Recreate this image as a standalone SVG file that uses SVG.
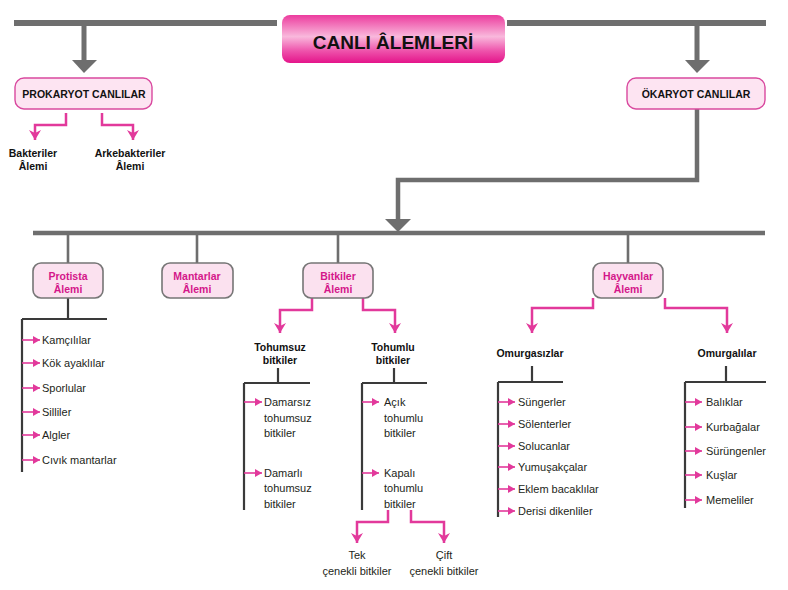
<svg xmlns="http://www.w3.org/2000/svg" width="788" height="590" viewBox="0 0 788 590">
<defs>
<linearGradient id="tg" x1="0" y1="0" x2="0" y2="1">
<stop offset="0" stop-color="#ec3c9e"/>
<stop offset="0.45" stop-color="#f9b8dc"/>
<stop offset="0.75" stop-color="#ee52ab"/>
<stop offset="1" stop-color="#e4148a"/>
</linearGradient>
<marker id="pa" markerUnits="userSpaceOnUse" markerWidth="12" markerHeight="12" refX="10" refY="6" orient="auto">
<path d="M0,0 L10,6 L0,12 L3,6 Z" fill="#e2399b"/>
</marker>
<marker id="sa" markerUnits="userSpaceOnUse" markerWidth="8" markerHeight="8" refX="7" refY="4" orient="auto">
<path d="M0,0 L7,4 L0,8 Z" fill="#e2399b"/>
</marker>
</defs>
<style>
.g{stroke:#6e6e6e;fill:none}
.gh{fill:#6e6e6e}
.p{stroke:#e2399b;stroke-width:2.5;fill:none;marker-end:url(#pa)}
.s{stroke:#e2399b;stroke-width:1.6;fill:none;marker-end:url(#sa)}
.k{stroke:#3a3a3a;stroke-width:2.2;fill:none}
.pbox{fill:#fde4f2;stroke:#d9499f;stroke-width:1.4}
.kbox{fill:#fbe1ef;stroke:#767676;stroke-width:1.6}
text{font-family:"Liberation Sans",Arial,sans-serif}
.t{font-size:19px;font-weight:bold;fill:#111;text-anchor:middle}
.b{font-size:10.5px;font-weight:bold;fill:#111;text-anchor:middle}
.m{font-size:10.5px;font-weight:bold;fill:#d4178a;text-anchor:middle}
.i{font-size:11px;fill:#231f20}
</style>
<rect width="788" height="590" fill="#ffffff"/>
<g id="connectors">
<path class="g" stroke-width="6" d="M14,23 H277 M507,23 H766"/>
<path class="g" stroke-width="5" d="M84,26 V62 M697,26 V62"/>
<polygon class="gh" points="72,60 97,60 84,73"/>
<polygon class="gh" points="685,60 710,60 697,73"/>
<path class="g" stroke-width="4.5" d="M697,108 V180 H398 V221"/>
<polygon class="gh" points="385,219 411,219 398,232"/>
<path class="g" stroke-width="4.5" d="M33,233 H765"/>
<path class="g" stroke-width="2.6" d="M68,233 V263 M197,233 V263 M338,233 V263 M628,233 V263"/>
<path class="p" d="M66,113 V125 H35 V140"/>
<path class="p" d="M102,113 V125 H133 V140"/>
<path class="p" d="M312,298 V310 H280 V333"/>
<path class="p" d="M363,298 V310 H395 V333"/>
<path class="p" d="M593,298 V308 H532 V333"/>
<path class="p" d="M665,298 V308 H727 V333"/>
<path class="p" d="M388,510 V522 H357 V543"/>
<path class="p" d="M411,510 V522 H444 V543"/>
<path class="k" d="M68,298 V319 M22,319 H107 M22,319 V472"/>
<path class="k" d="M278,368 V383 M244,383 H310 M244,383 V510"/>
<path class="k" d="M394,368 V383 M362,383 H427 M362,383 V510"/>
<path class="k" d="M532,366 V382 M498,382 H563 M498,382 V517"/>
<path class="k" d="M726,366 V382 M685,382 H766 M685,382 V508"/>
<path class="s" d="M22,340 H40"/>
<path class="s" d="M22,363 H40"/>
<path class="s" d="M22,388 H40"/>
<path class="s" d="M22,412 H40"/>
<path class="s" d="M22,435 H40"/>
<path class="s" d="M22,460 H40"/>
<path class="s" d="M244,402 H262"/>
<path class="s" d="M244,473 H262"/>
<path class="s" d="M362,402 H379"/>
<path class="s" d="M362,473 H379"/>
<path class="s" d="M498,402 H515"/>
<path class="s" d="M498,424 H515"/>
<path class="s" d="M498,446 H515"/>
<path class="s" d="M498,467 H515"/>
<path class="s" d="M498,489 H515"/>
<path class="s" d="M498,511 H515"/>
<path class="s" d="M685,402 H702"/>
<path class="s" d="M685,427 H702"/>
<path class="s" d="M685,451 H702"/>
<path class="s" d="M685,475 H702"/>
<path class="s" d="M685,500 H702"/>
</g>
<g id="title">
<rect x="282" y="15" width="223" height="48" rx="8" fill="url(#tg)"/>
<text class="t" x="393" y="49">CANLI ÂLEMLERİ</text>
</g>
<g id="prokaryot">
<rect class="pbox" x="15" y="78" width="137" height="31" rx="9"/>
<text class="b" x="84" y="98">PROKARYOT CANLILAR</text>
</g>
<g id="okaryot">
<rect class="pbox" x="627" y="78" width="138" height="31" rx="9"/>
<text class="b" x="696" y="98">ÖKARYOT CANLILAR</text>
</g>
<g id="bakteriler">
<text class="b" x="33" y="157">Bakteriler</text>
<text class="b" x="33" y="170">Âlemi</text>
</g>
<g id="arkebakteriler">
<text class="b" x="130" y="157">Arkebakteriler</text>
<text class="b" x="130" y="170">Âlemi</text>
</g>
<g id="protista">
<rect class="kbox" x="33" y="263" width="70" height="35" rx="8"/>
<text class="m" x="68" y="280">Protista</text>
<text class="m" x="68" y="293">Âlemi</text>
</g>
<g id="mantarlar">
<rect class="kbox" x="162" y="263" width="71" height="35" rx="8"/>
<text class="m" x="197" y="280">Mantarlar</text>
<text class="m" x="197" y="293">Âlemi</text>
</g>
<g id="bitkiler">
<rect class="kbox" x="303" y="263" width="70" height="35" rx="8"/>
<text class="m" x="338" y="280">Bitkiler</text>
<text class="m" x="338" y="293">Âlemi</text>
</g>
<g id="hayvanlar">
<rect class="kbox" x="593" y="263" width="70" height="35" rx="8"/>
<text class="m" x="628" y="280">Hayvanlar</text>
<text class="m" x="628" y="293">Âlemi</text>
</g>
<g id="protista-list">
<text class="i" x="42" y="344">Kamçılılar</text>
<text class="i" x="42" y="367">Kök ayaklılar</text>
<text class="i" x="42" y="392">Sporlular</text>
<text class="i" x="42" y="416">Silliler</text>
<text class="i" x="42" y="439">Algler</text>
<text class="i" x="42" y="464">Cıvık mantarlar</text>
</g>
<g id="tohumsuz">
<text class="b" x="280" y="351">Tohumsuz</text>
<text class="b" x="280" y="364">bitkiler</text>
</g>
<g id="tohumlu">
<text class="b" x="393" y="351">Tohumlu</text>
<text class="b" x="393" y="364">bitkiler</text>
</g>
<g id="tohumsuz-list">
<text class="i" x="264" y="406">Damarsız</text>
<text class="i" x="264" y="422">tohumsuz</text>
<text class="i" x="264" y="437">bitkiler</text>
<text class="i" x="264" y="477">Damarlı</text>
<text class="i" x="264" y="492">tohumsuz</text>
<text class="i" x="264" y="508">bitkiler</text>
</g>
<g id="tohumlu-list">
<text class="i" x="384" y="406">Açık</text>
<text class="i" x="384" y="422">tohumlu</text>
<text class="i" x="384" y="437">bitkiler</text>
<text class="i" x="384" y="477">Kapalı</text>
<text class="i" x="384" y="492">tohumlu</text>
<text class="i" x="384" y="508">bitkiler</text>
</g>
<g id="tek">
<text class="i" x="357" y="559" text-anchor="middle">Tek</text>
<text class="i" x="357" y="575" text-anchor="middle">çenekli bitkiler</text>
</g>
<g id="cift">
<text class="i" x="444" y="559" text-anchor="middle">Çift</text>
<text class="i" x="444" y="575" text-anchor="middle">çenekli bitkiler</text>
</g>
<g id="omurgasizlar">
<text class="b" x="530" y="357">Omurgasızlar</text>
</g>
<g id="omurgalilar">
<text class="b" x="727" y="357">Omurgalılar</text>
</g>
<g id="omurgasizlar-list">
<text class="i" x="518" y="406">Süngerler</text>
<text class="i" x="518" y="428">Sölenterler</text>
<text class="i" x="518" y="450">Solucanlar</text>
<text class="i" x="518" y="471">Yumuşakçalar</text>
<text class="i" x="518" y="493">Eklem bacaklılar</text>
<text class="i" x="518" y="515">Derisi dikenliler</text>
</g>
<g id="omurgalilar-list">
<text class="i" x="706" y="406">Balıklar</text>
<text class="i" x="706" y="431">Kurbağalar</text>
<text class="i" x="706" y="455">Sürüngenler</text>
<text class="i" x="706" y="479">Kuşlar</text>
<text class="i" x="706" y="504">Memeliler</text>
</g>
</svg>
